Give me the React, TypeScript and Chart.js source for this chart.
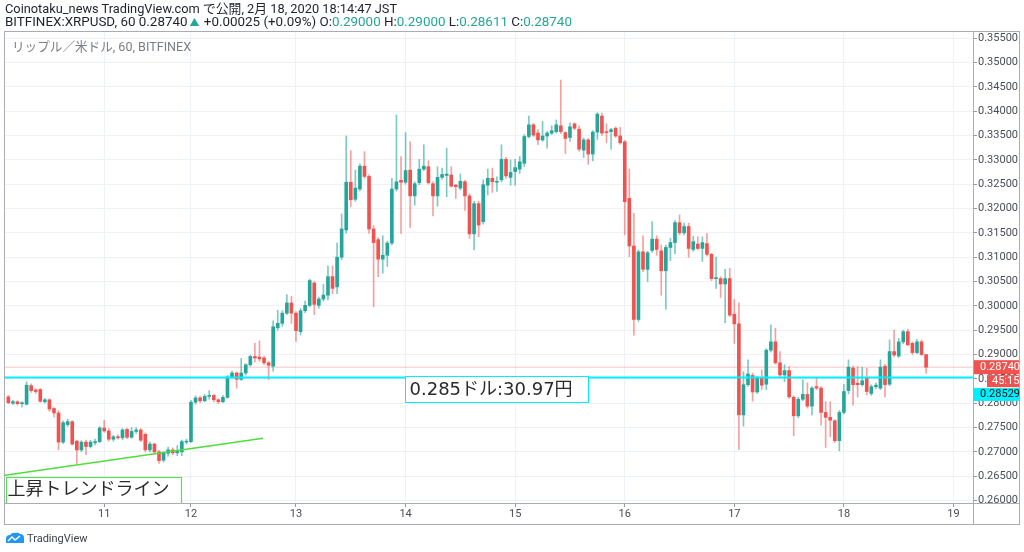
import React, { useEffect, useRef } from "react";
import { Chart, registerables } from "chart.js";

Chart.register(...registerables);

// ---- Data (hourly XRP/USD candles, Bitfinex) ----
const opens = [
  0.2813, 0.2800, 0.2803, 0.2799, 0.2798, 0.2836, 0.2827, 0.2828, 0.2803, 0.2807,
  0.2789, 0.2780, 0.2720, 0.2756, 0.2762, 0.2722, 0.2704, 0.2720, 0.2711, 0.2719,
  0.2721, 0.2749, 0.2743, 0.2726, 0.2731, 0.2729, 0.2746, 0.2730, 0.2742, 0.2745,
  0.2736, 0.2704, 0.2716, 0.2700, 0.2683, 0.2697, 0.2704, 0.2698, 0.2700, 0.2720,
  0.2721, 0.2802, 0.2811, 0.2805, 0.2814, 0.2816, 0.2807, 0.2803, 0.2812, 0.2853,
  0.2862, 0.2849, 0.2862, 0.2879, 0.2896, 0.2895, 0.2893, 0.2883, 0.2876, 0.2955,
  0.2964, 0.2985, 0.3006, 0.2985, 0.2947, 0.2990, 0.3001, 0.3047, 0.3001, 0.3014,
  0.3022, 0.3060, 0.3039, 0.3100, 0.3156, 0.3254, 0.3219, 0.3240, 0.3287, 0.3266,
  0.3158, 0.3136, 0.3096, 0.3104, 0.3129, 0.3240, 0.3258, 0.3254, 0.3279, 0.3226,
  0.3253, 0.3281, 0.3286, 0.3251, 0.3226, 0.3264, 0.3268, 0.3269, 0.3248, 0.3242,
  0.3255, 0.3226, 0.3148, 0.3210, 0.3173, 0.3248, 0.3262, 0.3254, 0.3259, 0.3301,
  0.3264, 0.3276, 0.3281, 0.3293, 0.3348, 0.3372, 0.3355, 0.3341, 0.3349, 0.3355,
  0.3358, 0.3370, 0.3356, 0.3346, 0.3374, 0.3363, 0.3320, 0.3341, 0.3312, 0.3357,
  0.3390, 0.3358, 0.3358, 0.3365, 0.3349, 0.3337, 0.3221, 0.3123, 0.2972, 0.3111,
  0.3075, 0.3114, 0.3137, 0.3113, 0.3072, 0.3120, 0.3130, 0.3171, 0.3150, 0.3163,
  0.3116, 0.3127, 0.3118, 0.3128, 0.3106, 0.3056, 0.3056, 0.3045, 0.3056, 0.2983,
  0.2963, 0.2776, 0.2838, 0.2857, 0.2823, 0.2851, 0.2839, 0.2909, 0.2926, 0.2883,
  0.2858, 0.2867, 0.2812, 0.2774, 0.2808, 0.2818, 0.2794, 0.2834, 0.2831, 0.2781,
  0.2771, 0.2764, 0.2723, 0.2781, 0.2826, 0.2872, 0.2841, 0.2838, 0.2851, 0.2820,
  0.2834, 0.2831, 0.2876, 0.2839, 0.2906, 0.2897, 0.2926, 0.2947, 0.2923, 0.2904,
  0.2926, 0.2900,
];
const highs = [
  0.2816, 0.2806, 0.2805, 0.2803, 0.2844, 0.2840, 0.2830, 0.2830, 0.2810, 0.2809,
  0.2791, 0.2785, 0.2764, 0.2767, 0.2764, 0.2724, 0.2723, 0.2724, 0.2724, 0.2726,
  0.2752, 0.2765, 0.2748, 0.2734, 0.2735, 0.2748, 0.2749, 0.2750, 0.2750, 0.2748,
  0.2739, 0.2720, 0.2718, 0.2703, 0.2700, 0.2710, 0.2708, 0.2713, 0.2724, 0.2726,
  0.2806, 0.2815, 0.2814, 0.2818, 0.2826, 0.2818, 0.2809, 0.2816, 0.2857, 0.2866,
  0.2864, 0.2892, 0.2881, 0.2899, 0.2923, 0.2928, 0.2897, 0.2886, 0.2969, 0.2991,
  0.2990, 0.3023, 0.3020, 0.2988, 0.2995, 0.3010, 0.3055, 0.3050, 0.3018, 0.3044,
  0.3082, 0.3082, 0.3129, 0.3189, 0.3349, 0.3319, 0.3279, 0.3292, 0.3317, 0.3270,
  0.3165, 0.3140, 0.3144, 0.3133, 0.3262, 0.3392, 0.3307, 0.3356, 0.3337, 0.3255,
  0.3301, 0.3331, 0.3298, 0.3255, 0.3286, 0.3283, 0.3324, 0.3286, 0.3250, 0.3271,
  0.3258, 0.3230, 0.3215, 0.3215, 0.3259, 0.3281, 0.3283, 0.3265, 0.3331, 0.3305,
  0.3300, 0.3301, 0.3307, 0.3352, 0.3390, 0.3375, 0.3362, 0.3379, 0.3358, 0.3370,
  0.3382, 0.3464, 0.3358, 0.3376, 0.3376, 0.3370, 0.3345, 0.3344, 0.3360, 0.3397,
  0.3396, 0.3374, 0.3365, 0.3368, 0.3367, 0.3340, 0.3281, 0.3190, 0.3115, 0.3144,
  0.3112, 0.3173, 0.3144, 0.3125, 0.3125, 0.3139, 0.3175, 0.3187, 0.3170, 0.3170,
  0.3143, 0.3142, 0.3142, 0.3149, 0.3108, 0.3100, 0.3060, 0.3075, 0.3077, 0.3013,
  0.3006, 0.2865, 0.2889, 0.2862, 0.2855, 0.2868, 0.2912, 0.2961, 0.2954, 0.2906,
  0.2879, 0.2875, 0.2815, 0.2812, 0.2848, 0.2842, 0.2834, 0.2851, 0.2834, 0.2803,
  0.2803, 0.2766, 0.2785, 0.2839, 0.2889, 0.2876, 0.2875, 0.2874, 0.2872, 0.2838,
  0.2842, 0.2889, 0.2880, 0.2930, 0.2950, 0.2933, 0.2950, 0.2952, 0.2926, 0.2931,
  0.2930, 0.2900,
];
const lows = [
  0.2799, 0.2797, 0.2796, 0.2792, 0.2796, 0.2822, 0.2820, 0.2802, 0.2800, 0.2783,
  0.2772, 0.2704, 0.2717, 0.2752, 0.2714, 0.2676, 0.2700, 0.2694, 0.2708, 0.2714,
  0.2719, 0.2740, 0.2722, 0.2722, 0.2726, 0.2725, 0.2727, 0.2728, 0.2738, 0.2721,
  0.2700, 0.2700, 0.2696, 0.2676, 0.2679, 0.2691, 0.2694, 0.2692, 0.2692, 0.2716,
  0.2719, 0.2798, 0.2801, 0.2803, 0.2808, 0.2803, 0.2799, 0.2801, 0.2810, 0.2850,
  0.2831, 0.2847, 0.2858, 0.2876, 0.2885, 0.2886, 0.2879, 0.2848, 0.2866, 0.2950,
  0.2958, 0.2982, 0.2964, 0.2927, 0.2940, 0.2986, 0.2998, 0.2982, 0.2995, 0.3010,
  0.3012, 0.3025, 0.3025, 0.3095, 0.3149, 0.3204, 0.3215, 0.3236, 0.3262, 0.3149,
  0.2998, 0.3060, 0.3067, 0.3081, 0.3125, 0.3236, 0.3149, 0.3250, 0.3161, 0.3207,
  0.3249, 0.3278, 0.3250, 0.3185, 0.3205, 0.3260, 0.3224, 0.3244, 0.3221, 0.3238,
  0.3196, 0.3139, 0.3115, 0.3142, 0.3168, 0.3228, 0.3233, 0.3235, 0.3255, 0.3262,
  0.3248, 0.3248, 0.3272, 0.3286, 0.3345, 0.3348, 0.3331, 0.3338, 0.3324, 0.3352,
  0.3355, 0.3354, 0.3313, 0.3338, 0.3362, 0.3318, 0.3305, 0.3291, 0.3298, 0.3342,
  0.3350, 0.3335, 0.3322, 0.3346, 0.3332, 0.3146, 0.3101, 0.2940, 0.2968, 0.3070,
  0.3050, 0.3110, 0.3104, 0.3022, 0.2993, 0.3093, 0.3107, 0.3146, 0.3146, 0.3100,
  0.3112, 0.3115, 0.3091, 0.3102, 0.3052, 0.3036, 0.3017, 0.2965, 0.2978, 0.2923,
  0.2705, 0.2753, 0.2835, 0.2804, 0.2820, 0.2828, 0.2828, 0.2905, 0.2880, 0.2855,
  0.2844, 0.2810, 0.2733, 0.2770, 0.2805, 0.2790, 0.2776, 0.2828, 0.2755, 0.2709,
  0.2731, 0.2719, 0.2702, 0.2778, 0.2819, 0.2796, 0.2813, 0.2835, 0.2817, 0.2816,
  0.2830, 0.2828, 0.2813, 0.2836, 0.2895, 0.2894, 0.2922, 0.2918, 0.2900, 0.2902,
  0.2898, 0.2861,
];
const closes = [
  0.2801, 0.2803, 0.2799, 0.2800, 0.2837, 0.2826, 0.2824, 0.2804, 0.2807, 0.2788,
  0.2780, 0.2720, 0.2760, 0.2762, 0.2716, 0.2704, 0.2720, 0.2711, 0.2720, 0.2721,
  0.2749, 0.2743, 0.2726, 0.2731, 0.2729, 0.2745, 0.2730, 0.2742, 0.2745, 0.2724,
  0.2704, 0.2716, 0.2700, 0.2682, 0.2697, 0.2704, 0.2698, 0.2702, 0.2721, 0.2722,
  0.2802, 0.2811, 0.2805, 0.2814, 0.2816, 0.2807, 0.2803, 0.2812, 0.2854, 0.2862,
  0.2849, 0.2862, 0.2879, 0.2896, 0.2893, 0.2891, 0.2883, 0.2878, 0.2957, 0.2964,
  0.2985, 0.3006, 0.2985, 0.2949, 0.2990, 0.3001, 0.3052, 0.3003, 0.3014, 0.3022,
  0.3060, 0.3036, 0.3100, 0.3158, 0.3254, 0.3218, 0.3242, 0.3287, 0.3266, 0.3158,
  0.3130, 0.3096, 0.3104, 0.3129, 0.3240, 0.3255, 0.3254, 0.3278, 0.3226, 0.3251,
  0.3281, 0.3287, 0.3253, 0.3226, 0.3264, 0.3270, 0.3271, 0.3246, 0.3245, 0.3256,
  0.3226, 0.3148, 0.3210, 0.3166, 0.3249, 0.3262, 0.3255, 0.3256, 0.3301, 0.3267,
  0.3274, 0.3284, 0.3296, 0.3348, 0.3372, 0.3351, 0.3341, 0.3349, 0.3355, 0.3360,
  0.3372, 0.3358, 0.3344, 0.3368, 0.3365, 0.3322, 0.3341, 0.3312, 0.3357, 0.3394,
  0.3355, 0.3356, 0.3362, 0.3349, 0.3335, 0.3214, 0.3123, 0.2972, 0.3111, 0.3075,
  0.3109, 0.3137, 0.3116, 0.3072, 0.3120, 0.3130, 0.3171, 0.3150, 0.3163, 0.3118,
  0.3132, 0.3118, 0.3130, 0.3106, 0.3056, 0.3058, 0.3045, 0.3056, 0.2981, 0.2963,
  0.2776, 0.2838, 0.2860, 0.2823, 0.2851, 0.2837, 0.2909, 0.2926, 0.2883, 0.2858,
  0.2867, 0.2813, 0.2774, 0.2808, 0.2818, 0.2794, 0.2831, 0.2831, 0.2781, 0.2771,
  0.2765, 0.2723, 0.2781, 0.2824, 0.2874, 0.2838, 0.2838, 0.2846, 0.2824, 0.2834,
  0.2837, 0.2874, 0.2838, 0.2906, 0.2899, 0.2926, 0.2947, 0.2920, 0.2904, 0.2926,
  0.2900, 0.2874,
];

// x axis: day labels and the bar index where each day begins
const dayLabels = ["11", "12", "13", "14", "15", "16", "17", "18", "19"];
const dayStartIndex = [21, 40, 63, 87, 111, 135, 159, 183, 207];
const xMin = -0.73;
const xMax = 211.27;

// y axis
const priceTicks = [
  0.26, 0.265, 0.27, 0.275, 0.28, 0.285, 0.29, 0.295, 0.3, 0.305,
  0.31, 0.315, 0.32, 0.325, 0.33, 0.335, 0.34, 0.345, 0.35, 0.355,
];
const yMin = 0.25949;
const yMax = 0.35648;

// drawings
const trendX = [-0.73, 55.8];
const trendY = [0.2652, 0.2728];
const supportPrice = 0.28529;
const countdownText = "45:15";
const supportNote = "0.285ドル:30.97円";
const trendNote = "上昇トレンドライン";

const UP = "#26a69a";
const DOWN = "#ef5350";
const UP_WICK = "rgba(38,166,154,0.6)";
const DOWN_WICK = "rgba(239,83,80,0.55)";
const CYAN = "#00f0ff";
const FRAME = "#a9acb4";
const AXIS_TEXT = "#4a4d57";
const GRID = "#eef1f6";
const SANS = "Roboto, 'Noto Sans CJK JP', sans-serif";
const NOTE_FONT = "18px 'DejaVu Sans', 'Noto Sans CJK JP', sans-serif";

const overlayPlugin = {
  id: "overlay",
  afterDatasetsDraw(chart: any) {
    const { ctx, chartArea } = chart;
    const xs = chart.scales.x;
    const ys = chart.scales.y;
    ctx.save();
    ctx.beginPath();
    ctx.rect(chartArea.left, chartArea.top, chartArea.right - chartArea.left, chartArea.bottom - chartArea.top);
    ctx.clip();

    // support note box
    {
      const x1 = Math.round(xs.getPixelForValue(86.9)) + 0.5;
      const x2 = Math.round(xs.getPixelForValue(126.9)) + 0.5;
      const y1 = Math.round(ys.getPixelForValue(0.28555)) + 0.5;
      const y2 = Math.round(ys.getPixelForValue(0.2802)) + 0.5;
      ctx.fillStyle = "#ffffff";
      ctx.fillRect(x1, y1, x2 - x1, y2 - y1);
      ctx.strokeStyle = CYAN;
      ctx.lineWidth = 1;
      ctx.strokeRect(x1, y1, x2 - x1, y2 - y1);
      ctx.fillStyle = "#2a2a2a";
      ctx.font = NOTE_FONT;
      ctx.textBaseline = "middle";
      ctx.textAlign = "left";
      ctx.fillText(supportNote, x1 + 4, (y1 + y2) / 2 + 1);
    }
    // trend note box
    {
      const x1 = Math.round(xs.getPixelForValue(xMin)) + 1.5;
      const x2 = Math.round(xs.getPixelForValue(37.9)) + 0.5;
      const y1 = Math.round(ys.getPixelForValue(0.2648)) + 0.5;
      const y2 = chartArea.bottom + 10;
      ctx.fillStyle = "#ffffff";
      ctx.fillRect(x1, y1, x2 - x1, y2 - y1);
      ctx.strokeStyle = "#5fdc55";
      ctx.lineWidth = 1.2;
      ctx.strokeRect(x1, y1, x2 - x1, y2 - y1);
      ctx.fillStyle = "#2a2a2a";
      ctx.font = NOTE_FONT;
      ctx.textBaseline = "middle";
      ctx.fillText(trendNote, x1 + 1, y1 + 13);
    }
    ctx.restore();
  },
  afterDraw(chart: any) {
    const { ctx, chartArea } = chart;
    const ys = chart.scales.y;
    const W = chart.width;
    ctx.save();
    // frame
    ctx.strokeStyle = FRAME;
    ctx.lineWidth = 1;
    ctx.strokeRect(4.5, chartArea.top + 0.5, W - 9, 524 - chartArea.top);
    ctx.beginPath();
    ctx.moveTo(chartArea.right + 0.5, chartArea.top);
    ctx.lineTo(chartArea.right + 0.5, 525);
    ctx.moveTo(4, chartArea.bottom + 0.5);
    ctx.lineTo(W - 4, chartArea.bottom + 0.5);
    ctx.stroke();

    const lx = chartArea.right + 1;
    const lw = W - 5 - lx;
    ctx.font = "11px " + SANS;
    ctx.textBaseline = "middle";
    ctx.textAlign = "left";

    // last price label
    const last = closes[closes.length - 1];
    const yl = ys.getPixelForValue(last);
    ctx.fillStyle = DOWN;
    ctx.fillRect(lx, yl - 7, lw, 14);
    ctx.fillStyle = "#ffffff";
    ctx.fillText(last.toFixed(5), lx + 6, yl);
    // countdown label
    ctx.fillStyle = DOWN;
    ctx.fillRect(lx + 13, yl + 8, lw - 13, 12);
    ctx.fillStyle = "#ffffff";
    ctx.fillText(countdownText, lx + 18, yl + 14);
    // support label
    const ysup = ys.getPixelForValue(supportPrice) + 17;
    ctx.fillStyle = CYAN;
    ctx.fillRect(lx, ysup - 6.5, lw, 13);
    ctx.fillStyle = "#111111";
    ctx.fillText(supportPrice.toFixed(5), lx + 6, ysup);
    ctx.restore();
  },
};

export default function App() {
  const canvasRef = useRef<HTMLCanvasElement | null>(null);

  useEffect(() => {
    const canvas = canvasRef.current;
    if (!canvas) return;
    const n = opens.length;
    const isUp = opens.map((o, i) => closes[i] >= o);
    const lastClose = closes[n - 1];

    const chart = new Chart(canvas, {
      type: "bar",
      data: {
        datasets: [
          {
            type: "line",
            data: [
              { x: xMin, y: lastClose },
              { x: xMax, y: lastClose },
            ],
            borderColor: "rgba(239,83,80,0.35)",
            borderWidth: 1,
            pointRadius: 0,
            order: 5,
          } as any,
          {
            type: "bar",
            data: opens.map((_, i) => ({ x: i, y: [lows[i], highs[i]] })),
            backgroundColor: isUp.map((u) => (u ? UP_WICK : DOWN_WICK)),
            barThickness: 1,
            grouped: false,
            order: 4,
          } as any,
          {
            type: "bar",
            data: opens.map((o, i) => ({ x: i, y: [o, closes[i]] })),
            backgroundColor: isUp.map((u) => (u ? UP : DOWN)),
            barThickness: 3,
            minBarLength: 1,
            grouped: false,
            order: 3,
          } as any,
          {
            type: "line",
            data: trendX.map((x, i) => ({ x, y: trendY[i] })),
            borderColor: "#4fdc3f",
            borderWidth: 1.5,
            pointRadius: 0,
            order: 1,
          } as any,
          {
            type: "line",
            data: [
              { x: xMin, y: supportPrice },
              { x: xMax, y: supportPrice },
            ],
            borderColor: CYAN,
            borderWidth: 2,
            pointRadius: 0,
            order: 0,
          } as any,
        ],
      },
      options: {
        responsive: false,
        maintainAspectRatio: false,
        animation: false,
        events: [],
        layout: { padding: { left: 5, top: 31, right: 5, bottom: 27 } },
        plugins: { legend: { display: false }, tooltip: { enabled: false } },
        scales: {
          x: {
            type: "linear",
            min: xMin,
            max: xMax,
            offset: false,
            afterBuildTicks: (s: any) => {
              s.ticks = dayStartIndex.map((v) => ({ value: v }));
            },
            afterFit: (s: any) => {
              s.height = 22;
            },
            ticks: {
              autoSkip: false,
              maxRotation: 0,
              padding: 1,
              color: AXIS_TEXT,
              font: { size: 11, family: SANS },
              callback: (v: any) => dayLabels[dayStartIndex.indexOf(Number(v))],
            },
            grid: { color: GRID, offset: false, drawTicks: true, tickLength: 4, tickColor: "#9598a1" },
            border: { display: false },
          },
          y: {
            type: "linear",
            position: "right",
            min: yMin,
            max: yMax,
            afterBuildTicks: (s: any) => {
              s.ticks = priceTicks.map((v) => ({ value: v }));
            },
            afterFit: (s: any) => {
              s.width = 46;
            },
            ticks: {
              padding: 1,
              color: AXIS_TEXT,
              font: { size: 11, family: SANS },
              callback: (v: any) => Number(v).toFixed(5),
            },
            grid: { color: GRID, drawTicks: true, tickLength: 4, tickColor: "#9598a1" },
            border: { display: false },
          },
        },
      } as any,
      plugins: [overlayPlugin],
    });
    return () => chart.destroy();
  }, []);

  const teal = { color: "#26a69a" };
  return (
    <div
      style={{
        position: "fixed",
        left: 0,
        top: 0,
        width: 1024,
        height: 552,
        background: "#ffffff",
        overflow: "hidden",
        fontFamily: SANS,
      }}
    >
      <canvas ref={canvasRef} width={1024} height={552} style={{ position: "absolute", left: 0, top: 0 }} />
      <div style={{ position: "absolute", left: 5, top: 2, fontSize: 12.8, lineHeight: "14px", color: "#1e222d", whiteSpace: "nowrap" }}>
        Coinotaku_news TradingView.com で公開, 2月 18, 2020 18:14:47 JST
      </div>
      <div style={{ position: "absolute", left: 5, top: 15, fontSize: 13.4, lineHeight: "14px", color: "#1e222d", whiteSpace: "nowrap" }}>
        BITFINEX:XRPUSD, 60 0.28740<span style={{ ...teal, fontSize: 10, margin: "0 1px 0 2px" }}>▲</span> +0.00025 (+0.09%) O:
        <span style={teal}>0.29000</span> H:<span style={teal}>0.29000</span> L:
        <span style={teal}>0.28611</span> C:<span style={teal}>0.28740</span>
      </div>
      <div style={{ position: "absolute", left: 12, top: 39, fontSize: 12.6, lineHeight: "16px", color: "#7b7e88", whiteSpace: "nowrap" }}>
        リップル／米ドル, 60, BITFINEX
      </div>
      <div style={{ position: "absolute", left: 5, top: 530, height: 16, display: "flex", alignItems: "center" }}>
        <svg width="20" height="12" viewBox="0 0 20 12">
          <path d="M1 11 L1 7 Q1 3 5 3 Q7 0 11 1 Q13 -0.5 15 2 Q19 2 19 6 L19 11 Z" fill="#2196f3" />
          <path d="M3 9 L7 5 L10 8 L15 4" stroke="#ffffff" strokeWidth="1.5" fill="none" />
        </svg>
        <span style={{ marginLeft: 2, fontSize: 11, color: "#3c3f48" }}>TradingView</span>
      </div>
    </div>
  );
}
